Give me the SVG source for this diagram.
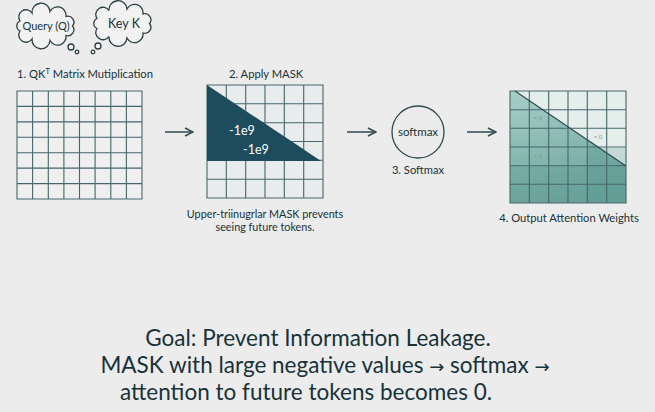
<svg xmlns="http://www.w3.org/2000/svg" width="655" height="412" viewBox="0 0 655 412">
<defs>
<style>
text{font-family:Lato,"Open Sans","Liberation Sans",sans-serif;fill:#18323a}
.lbl{font-size:11.2px}
.big{font-size:22.5px;text-anchor:middle;fill:#18323a}
.arr{font-family:"DejaVu Sans",sans-serif;font-size:18px}
.grid{fill:none;stroke:#46666c;stroke-width:1.1}
.cloud{fill:#f2f2f2;stroke:#2c3e44;stroke-width:1.3}
.conn{fill:none;stroke:#2f4a50;stroke-width:1.5}
.approx{font-size:6px;fill:#7c9a96}
</style>
<marker id="ah" viewBox="0 0 10 10" refX="9" refY="5" markerWidth="10" markerHeight="10" markerUnits="userSpaceOnUse" orient="auto">
<path d="M1,1 L9,5 L1,9" fill="none" stroke="#2f4a50" stroke-width="1.5"/>
</marker>
<linearGradient id="tg" x1="0" y1="0" x2="0.3" y2="1">
<stop offset="0" stop-color="#a8cfc8"/>
<stop offset="1" stop-color="#6fa79f"/>
</linearGradient>
</defs>
<rect width="655" height="412" fill="#ececec"/>

<g id="query">
<path class="cloud" d="M72.5,26 A6,6 0 0 1 66,35.5 A8.5,8.5 0 0 1 50,40.5 A9,9 0 0 1 32,39 A7,7 0 0 1 20,31 A5.5,5.5 0 0 1 20,21 A7,7 0 0 1 32,13 A9,9 0 0 1 50,11.5 A8.5,8.5 0 0 1 66,16.5 A6,6 0 0 1 72.5,26 Z"/>
<circle class="cloud" cx="71" cy="47" r="3"/>
<circle class="cloud" cx="77" cy="52" r="1.8"/>
<text x="46" y="30" text-anchor="middle" font-size="11">Query (Q)</text>
</g>
<g id="key">
<path class="cloud" d="M149.5,23.5 A6,6 0 0 1 143,33 A8.5,8.5 0 0 1 127,38 A9,9 0 0 1 109,36.5 A7,7 0 0 1 97,28.5 A5.5,5.5 0 0 1 97,18.5 A7,7 0 0 1 109,10.5 A9,9 0 0 1 127,9 A8.5,8.5 0 0 1 143,14 A6,6 0 0 1 149.5,23.5 Z"/>
<circle class="cloud" cx="98" cy="46" r="3"/>
<circle class="cloud" cx="93" cy="52" r="1.8"/>
<text x="124" y="28" text-anchor="middle" font-size="12.5">Key K</text>
</g>

<g id="matmul">
<text class="lbl" x="17" y="78">1. QK<tspan font-size="7.5" dy="-4.5">T</tspan><tspan dy="4.5"> Matrix Mutiplication</tspan></text>
<rect x="17" y="91" width="125" height="108" fill="#efefef"/>
<path class="grid" d="M17,91H142V199H17Z M32.6,91V199 M48.3,91V199 M63.9,91V199 M79.5,91V199 M95.1,91V199 M110.8,91V199 M126.4,91V199 M17,106.4H142 M17,121.9H142 M17,137.3H142 M17,152.7H142 M17,168.1H142 M17,183.6H142"/>
</g>

<g id="mask">
<text class="lbl" x="229" y="78">2. Apply MASK</text>
<rect x="207" y="85" width="116" height="113" fill="#e8ecec"/>
<path class="grid" d="M207,85H323V198H207Z M226.3,85V198 M245.7,85V198 M265,85V198 M284.3,85V198 M303.7,85V198 M207,103.8H323 M207,122.7H323 M207,141.5H323 M207,160.3H323 M207,179.2H323"/>
<polygon points="207,85 207,161 321,161" fill="#1d4d5d"/>
<text x="229" y="135" font-size="12.5" style="fill:#ffffff">-1e9</text>
<text x="243" y="154" font-size="12.5" style="fill:#ffffff">-1e9</text>
<text x="265" y="218" text-anchor="middle" font-size="10.8">Upper-triinugrlar MASK prevents</text>
<text x="265" y="231" text-anchor="middle" font-size="10.8">seeing future tokens.</text>
</g>

<g id="softmax">
<circle cx="418" cy="132" r="26" fill="none" stroke="#2f4a50" stroke-width="1.3"/>
<text x="418" y="136" text-anchor="middle" font-size="11.5">softmax</text>
<text class="lbl" x="418" y="174" text-anchor="middle">3. Softmax</text>
</g>

<g id="output">
<rect x="510" y="91" width="116" height="112" fill="#e4eeeb"/>
<polygon points="510,91 515,91 626,166 626,203 510,203" fill="url(#tg)"/>
<rect x="510" y="166.5" width="116" height="36.5" fill="#5f9a92" opacity="0.35"/>
<rect x="587.3" y="147.8" width="38.7" height="55" fill="#5f9a92" opacity="0.25"/>
<polygon points="587.3,138 626,166 626,203 587.3,203" fill="#5f9a92" opacity="0.15"/>
<path class="grid" d="M510,91H626V203H510Z M529.3,91V203 M548.7,91V203 M568,91V203 M587.3,91V203 M606.7,91V203 M510,109.7H626 M510,128.3H626 M510,147H626 M510,165.7H626 M510,184.3H626"/>
<line x1="515" y1="91" x2="626" y2="166" stroke="#2f4a50" stroke-width="1.2"/>
<text class="approx" x="538" y="120" text-anchor="middle">≈ 0</text>
<text class="approx" x="598" y="139" text-anchor="middle">≈ 0</text>
<text class="approx" x="538" y="158" text-anchor="middle">≈ 0</text>
<text class="lbl" x="569" y="222" text-anchor="middle">4. Output Attention Weights</text>
</g>

<g id="connectors">
<line class="conn" x1="165" y1="132" x2="193" y2="132" marker-end="url(#ah)"/>
<line class="conn" x1="347" y1="132" x2="376" y2="132" marker-end="url(#ah)"/>
<line class="conn" x1="467" y1="132" x2="496" y2="132" marker-end="url(#ah)"/>
</g>

<g id="goal">
<text class="big" x="318" y="346">Goal: Prevent Information Leakage.</text>
<text class="big" x="325" y="373">MASK with large negative values <tspan class="arr">→</tspan> softmax <tspan class="arr">→</tspan></text>
<text class="big" x="306" y="400">attention to future tokens becomes 0.</text>
</g>
</svg>
